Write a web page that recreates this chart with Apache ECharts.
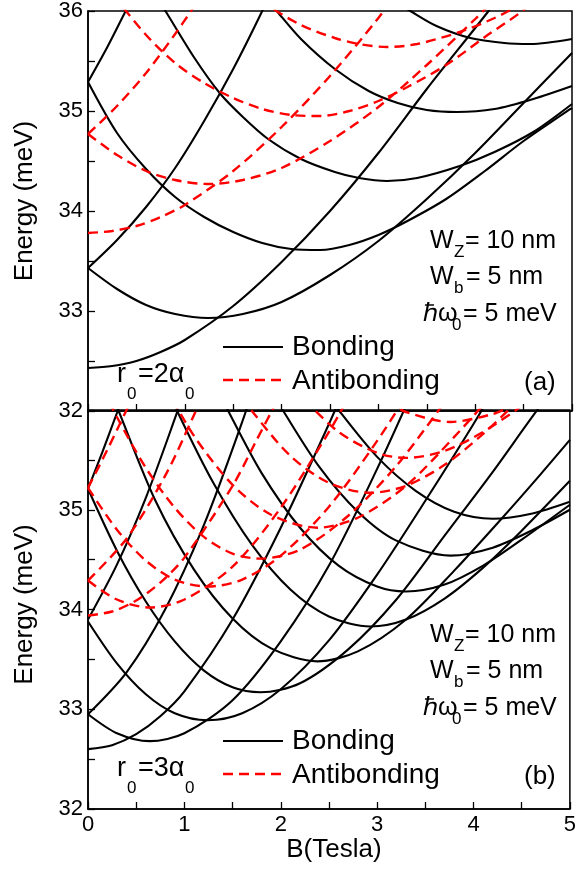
<!DOCTYPE html>
<html>
<head>
<meta charset="utf-8">
<script src="https://cdn.jsdelivr.net/npm/echarts@6/dist/echarts.min.js"></script>
<style>
html,body{margin:0;padding:0;background:#fff;}
#c{width:579px;height:884px;}
</style>
</head>
<body>
<div id="c"></div>
<script>
// ---------- axis settings ----------
const xTicks = [0, 1, 2, 3, 4, 5];
const yTicks = [32, 33, 34, 35, 36];

// ---------- panel (a): r0 = 2 alpha0 ----------
// Bonding (black solid)
const a_b_m0  = [[0,32.43],[0.25,32.45],[0.5,32.50],[0.75,32.59],[1.0,32.71],[1.5,33.05],[2.0,33.49],[2.5,34.00],[3.0,34.58],[3.5,35.22],[4.0,35.83],[4.3,36.2]];
const a_b_m1  = [[0,33.43],[0.3,33.22],[0.6,33.06],[0.9,32.97],[1.24,32.93],[1.6,32.97],[2.0,33.09],[2.5,33.36],[3.0,33.70],[3.5,34.12],[4.0,34.58],[4.5,35.08],[5.0,35.58]];
const a_b_mm1 = [[0,33.43],[0.3,33.71],[0.6,34.04],[0.9,34.43],[1.2,34.90],[1.5,35.42],[1.8,36.0],[1.95,36.32]];
const a_b_m2  = [[0,35.29],[0.3,34.78],[0.6,34.42],[0.9,34.14],[1.2,33.94],[1.5,33.79],[1.8,33.68],[2.1,33.62],[2.4,33.61],[2.7,33.66],[3.0,33.76],[3.3,33.90],[3.7,34.12],[4.1,34.40],[4.5,34.70],[5.0,35.03]];
const a_b_mm2 = [[0,35.29],[0.2,35.64],[0.4,36.02],[0.5,36.2]];
const a_b_m3  = [[0.7,36.15],[0.8,36.0],[1.1,35.53],[1.36,35.18],[1.6,34.94],[1.86,34.72],[2.2,34.52],[2.55,34.39],[2.8,34.33],[3.09,34.30],[3.4,34.33],[3.84,34.45],[4.2,34.59],[4.6,34.79],[5.0,35.07]];
const a_b_m4  = [[1.85,36.12],[1.95,36.0],[2.2,35.72],[2.55,35.42],[2.9,35.20],[3.2,35.08],[3.5,35.01],[3.81,34.99],[4.2,35.02],[4.6,35.12],[5.0,35.25]];
const a_b_m5  = [[3.2,36.08],[3.33,36.0],[3.6,35.85],[3.95,35.73],[4.3,35.68],[4.57,35.67],[5.0,35.72]];
// Antibonding (red dashed)
const a_r_m0  = [[0,33.78],[0.25,33.80],[0.5,33.85],[0.75,33.94],[1.0,34.06],[1.5,34.40],[2.0,34.84],[2.5,35.35],[3.0,35.93],[3.2,36.2]];
const a_r_m1  = [[0,34.77],[0.3,34.56],[0.6,34.40],[0.9,34.31],[1.24,34.27],[1.6,34.31],[2.0,34.43],[2.5,34.70],[3.0,35.04],[3.5,35.46],[4.0,35.92],[4.2,36.12]];
const a_r_mm1 = [[0,34.77],[0.3,35.05],[0.6,35.38],[0.9,35.77],[1.1,36.05]];
const a_r_m2  = [[0.2,36.3],[0.3,36.12],[0.6,35.76],[0.9,35.48],[1.2,35.28],[1.5,35.13],[1.8,35.02],[2.1,34.96],[2.4,34.95],[2.7,35.00],[3.0,35.10],[3.3,35.24],[3.7,35.46],[4.1,35.74],[4.5,36.01],[4.7,36.2]];
const a_r_m3  = [[1.7,36.25],[1.86,36.06],[2.2,35.86],[2.55,35.73],[2.8,35.67],[3.09,35.64],[3.4,35.67],[3.84,35.79],[4.2,35.93],[4.5,36.08]];

// ---------- panel (b): r0 = 3 alpha0 ----------
const b_b_m0  = [[0,32.60],[0.25,32.64],[0.5,32.75],[0.75,32.93],[1.0,33.18],[1.5,33.90],[2.0,34.82],[2.5,35.86],[2.7,36.3]];
const b_b_m1  = [[0,32.95],[0.3,32.76],[0.64,32.68],[1.0,32.76],[1.5,33.09],[2.0,33.68],[2.5,34.44],[3.0,35.41],[3.4,36.26]];
const b_b_mm1 = [[0,32.95],[0.4,33.37],[0.8,34.0],[1.2,34.84],[1.6,35.88],[1.8,36.48]];
const b_b_m2  = [[0,33.88],[0.3,33.46],[0.6,33.15],[0.9,32.96],[1.24,32.89],[1.6,32.96],[2.0,33.20],[2.5,33.69],[3.0,34.35],[3.5,35.09],[4.0,35.86],[4.3,36.35]];
const b_b_mm2 = [[0,33.90],[0.3,34.45],[0.6,35.12],[0.9,35.91],[1.0,36.20]];
const b_b_m3  = [[0,35.21],[0.3,34.59],[0.6,34.08],[0.9,33.68],[1.2,33.39],[1.5,33.22],[1.79,33.17],[2.2,33.26],[2.7,33.60],[3.2,34.10],[3.7,34.74],[4.2,35.38],[4.7,36.05],[4.9,36.27]];
const b_b_mm3 = [[0,35.21],[0.15,35.58],[0.3,35.97],[0.4,36.24]];
const b_b_m4  = [[0.2,36.28],[0.31,36.01],[0.7,35.09],[1.1,34.40],[1.5,33.91],[1.9,33.61],[2.38,33.48],[2.8,33.58],[3.3,33.90],[3.8,34.39],[4.3,34.92],[4.7,35.36],[5.0,35.70]];
const b_b_m5  = [[0.8,36.28],[0.92,36.0],[1.3,35.27],[1.7,34.65],[2.1,34.20],[2.5,33.93],[2.93,33.83],[3.3,33.90],[3.7,34.11],[4.1,34.42],[4.5,34.79],[5.0,35.29]];
const b_b_m6  = [[1.3,36.30],[1.45,36.0],[1.8,35.37],[2.2,34.82],[2.6,34.44],[3.0,34.23],[3.3,34.18],[3.7,34.25],[4.1,34.44],[4.5,34.70],[5.0,35.05]];
const b_b_m7  = [[1.9,36.2],[2.02,36.0],[2.4,35.43],[2.8,34.98],[3.2,34.69],[3.76,34.54],[4.2,34.62],[4.6,34.79],[5.0,35.00]];
const b_b_m8  = [[2.5,36.15],[2.6,36.0],[3.0,35.53],[3.4,35.19],[3.8,34.98],[4.2,34.91],[4.6,34.96],[5.0,35.08]];
// Antibonding (red dashed)
const b_r_m0  = [[0,33.94],[0.25,33.98],[0.5,34.09],[0.75,34.27],[1.0,34.52],[1.5,35.24],[1.75,35.70],[2.0,36.16]];
const b_r_m1  = [[0,34.29],[0.3,34.10],[0.64,34.02],[1.0,34.10],[1.5,34.43],[2.0,35.02],[2.5,35.78],[2.7,36.12]];
const b_r_mm1 = [[0,34.29],[0.4,34.71],[0.8,35.34],[1.1,35.95],[1.2,36.18]];
const b_r_m2  = [[0,35.22],[0.3,34.80],[0.6,34.49],[0.9,34.30],[1.24,34.23],[1.6,34.30],[2.0,34.54],[2.5,35.03],[3.0,35.69],[3.3,36.14]];
const b_r_mm2 = [[0,35.22],[0.2,35.60],[0.4,36.0],[0.5,36.2]];
const b_r_m3  = [[0.15,36.23],[0.3,35.93],[0.6,35.42],[0.9,35.02],[1.2,34.73],[1.5,34.56],[1.79,34.51],[2.2,34.60],[2.7,34.94],[3.2,35.44],[3.7,36.08]];
const b_r_m4  = [[0.8,36.24],[1.1,35.74],[1.5,35.25],[1.9,34.95],[2.38,34.82],[2.8,34.92],[3.3,35.24],[3.8,35.73],[4.2,36.16]];
const b_r_m5  = [[1.6,36.13],[1.7,35.99],[2.1,35.54],[2.5,35.27],[2.93,35.17],[3.3,35.24],[3.7,35.45],[4.1,35.76],[4.5,36.13]];
const b_r_m6  = [[2.25,36.10],[2.6,35.78],[3.0,35.57],[3.3,35.52],[3.7,35.59],[4.1,35.78],[4.5,36.04]];
const b_r_m7  = [[3.1,36.09],[3.3,35.98],[3.76,35.88],[4.2,35.96],[4.4,36.04]];

const panelA_bond = [a_b_m0,a_b_m1,a_b_mm1,a_b_m2,a_b_mm2,a_b_m3,a_b_m4,a_b_m5];
const panelA_anti = [a_r_m0,a_r_m1,a_r_mm1,a_r_m2,a_r_m3];
const panelB_bond = [b_b_m0,b_b_m1,b_b_mm1,b_b_m2,b_b_mm2,b_b_m3,b_b_mm3,b_b_m4,b_b_m5,b_b_m6,b_b_m7,b_b_m8];
const panelB_anti = [b_r_m0,b_r_m1,b_r_mm1,b_r_m2,b_r_mm2,b_r_m3,b_r_m4,b_r_m5,b_r_m6,b_r_m7];

const FONT = '"Liberation Sans", Arial, sans-serif';
const RED = '#ff0000';

function mkSeries(arr, idx, anti) {
  return arr.map(d => ({
    type: 'line', xAxisIndex: idx, yAxisIndex: idx, data: d,
    showSymbol: false, symbol: 'none', smooth: 0.3, clip: true, silent: true,
    z: anti ? 3 : 2,
    lineStyle: anti ? {color: RED, width: 2.4, type: [10, 6]} : {color: '#000', width: 2.1}
  }));
}

function xAx(idx, showLabels) {
  return {
    type: 'value', gridIndex: idx, min: xTicks[0], max: xTicks[xTicks.length-1], interval: 1,
    axisLine: {show: true, lineStyle: {color: '#000', width: 1.5}},
    axisTick: {show: true, inside: true, length: 7, lineStyle: {color: '#000', width: 1.3}},
    minorTick: {show: true, splitNumber: 2, length: 7, lineStyle: {color: '#000', width: 1.3}},
    splitLine: {show: false},
    axisLabel: {show: showLabels, fontSize: 22, color: '#000', fontFamily: FONT, margin: 5},
    name: showLabels ? 'B(Tesla)' : '', nameLocation: 'middle', nameGap: 27,
    nameTextStyle: {fontSize: 26, color: '#000', fontFamily: FONT, padding: [0, 0, 0, 10]}
  };
}
function yAx(idx, hideTop, shift) {
  return {
    type: 'value', gridIndex: idx, min: yTicks[0], max: yTicks[yTicks.length-1], interval: 1,
    axisLine: {show: true, lineStyle: {color: '#000', width: 1.5}},
    axisTick: {show: true, inside: true, length: 7, lineStyle: {color: '#000', width: 1.3}},
    minorTick: {show: true, splitNumber: 2, length: 7, lineStyle: {color: '#000', width: 1.3}},
    splitLine: {show: false},
    axisLabel: {fontSize: 22, color: '#000', fontFamily: FONT, margin: 5,
      formatter: v => (hideTop && v === 36) ? '' : String(v)},
    name: 'Energy (meV)', nameLocation: 'middle', nameGap: 50,
    nameTextStyle: {fontSize: 26, color: '#000', fontFamily: FONT, padding: [0, 0, 0, shift]}
  };
}

function txt(x, y, s, size, extra) {
  return Object.assign({type: 'text', x: x, y: y, silent: true, z: 100,
    style: {text: s, fontSize: size, fontFamily: FONT, fill: '#000', align: 'left', verticalAlign: 'middle'}}, extra || {});
}
function seg(x1, y1, x2, y2, red) {
  return {type: 'line', silent: true, z: 100, shape: {x1: x1, y1: y1, x2: x2, y2: y2},
    style: red ? {stroke: RED, lineWidth: 2.4, lineDash: [10, 6]} : {stroke: '#000', lineWidth: 2.1}};
}
function panelText(dy, tag, rval) {
  return [
    seg(223, 347 + dy, 283, 347 + dy, false),
    seg(223, 380 + dy, 283, 380 + dy, true),
    txt(292, 347 + dy, 'Bonding', 28),
    txt(292, 381 + dy, 'Antibonding', 28),
    txt(117, 375 + dy, 'r', 27),
    txt(127, 394 + dy, '0', 17),
    txt(138, 375 + dy, '=' + rval + '\u03b1', 27),
    txt(185, 394 + dy, '0', 17),
    txt(524, 383 + dy, tag, 26),
    txt(430, 241 + dy, 'W', 25),
    txt(454, 252 + dy, 'Z', 17),
    txt(465, 241 + dy, '= 10 nm', 25),
    txt(430, 277 + dy, 'W', 25),
    txt(454, 288 + dy, 'b', 17),
    txt(466, 277 + dy, '= 5 nm', 25),
    txt(423, 314 + dy, '\u210f\u03c9', 25),
    txt(452, 325 + dy, '0', 17),
    txt(463, 314 + dy, '= 5 meV', 25)
  ];
}

const chart = echarts.init(document.getElementById('c'), null, {renderer: 'canvas'});
chart.setOption({
  animation: false,
  backgroundColor: '#fff',
  grid: [
    {left: 88, right: 7, top: 10, height: 401, show: true, borderColor: '#000', borderWidth: 1.5, backgroundColor: 'transparent'},
    {left: 88, right: 7, top: 410, height: 399, show: true, borderColor: '#000', borderWidth: 1.5, backgroundColor: 'transparent'}
  ],
  xAxis: [xAx(0, false), xAx(1, true)],
  yAxis: [yAx(0, false, 20), yAx(1, true, 10)],
  series: [].concat(
    mkSeries(panelA_bond, 0, false), mkSeries(panelA_anti, 0, true),
    mkSeries(panelB_bond, 1, false), mkSeries(panelB_anti, 1, true)
  ),
  graphic: [].concat(panelText(0, '(a)', '2'), panelText(394, '(b)', '3'))
});
</script>
</body>
</html>
